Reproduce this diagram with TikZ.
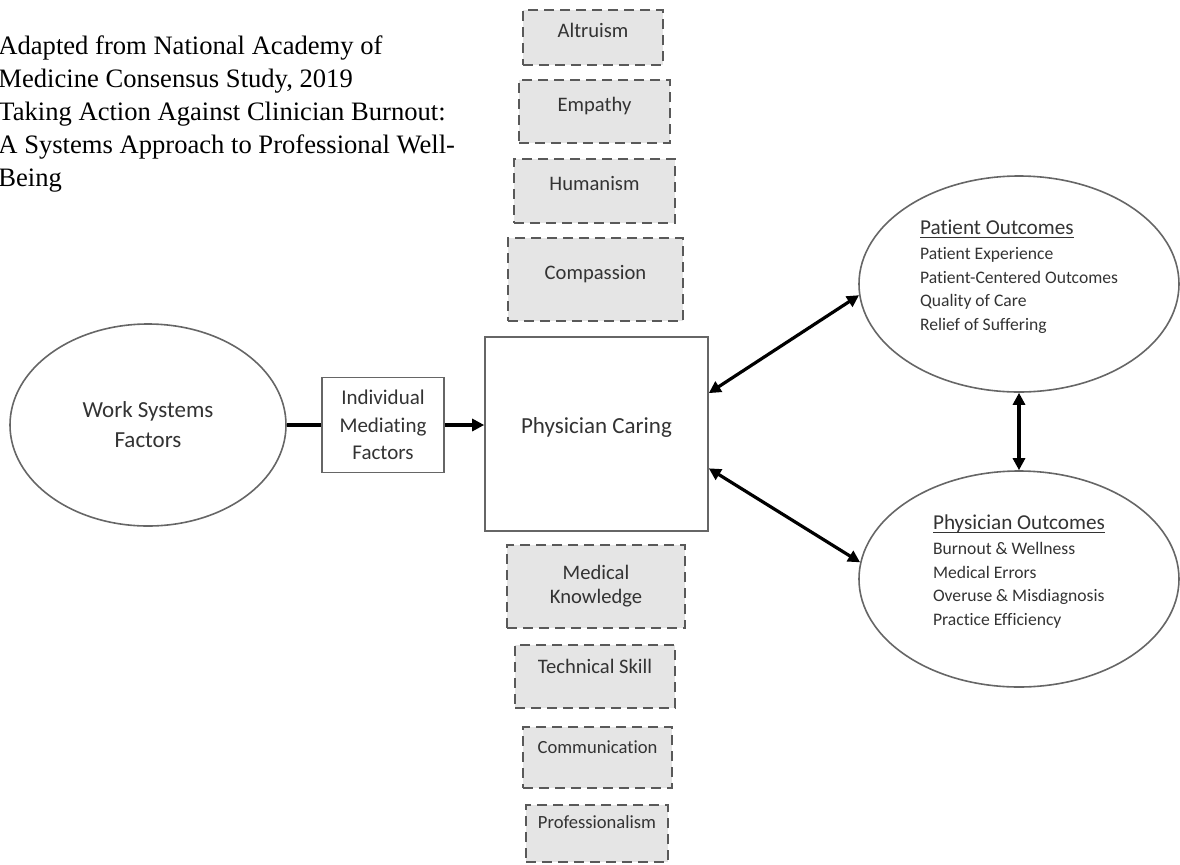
\documentclass[tikz,border=0pt]{standalone}
\usepackage{fontspec}
\setmainfont{Carlito}[Ligatures=NoCommon]
\newfontfamily\timesface{Liberation Serif}
\usetikzlibrary{shapes.geometric,arrows.meta}

\begin{document}
\begin{tikzpicture}[x=0.5pt,y=-0.5pt]
    % Define styles
    \tikzstyle{trait} = [rectangle, draw=black!65, line width=1.4pt, dash pattern=on 5pt off 3pt, fill=black!10, align=center, inner sep=0pt, text=black!80, font=\fontsize{10.3}{12.5}\selectfont]
    \tikzstyle{smalltrait} = [trait, font=\fontsize{9.3}{11}\selectfont]
    \tikzstyle{block} = [rectangle, draw=black!60, line width=0.8pt, align=center, inner sep=0pt, text=black!80]
    \tikzstyle{oval} = [ellipse, draw=black!60, line width=0.8pt, align=center, inner sep=0pt, text=black!80]
    \tikzstyle{outcome} = [oval, align=left, minimum width=160pt, minimum height=108pt, font=\fontsize{8.8}{11.75}\selectfont]
    \tikzstyle{link} = [line width=1.6pt]
    \tikzstyle{arr} = [link, -{Triangle[length=6pt,width=6pt]}]
    \tikzstyle{biarr} = [link, {Triangle[length=6pt,width=6pt]}-{Triangle[length=6pt,width=6pt]}]

    \useasboundingbox (0,0) rectangle (1180,864);

    % Source note
    \node[anchor=north west, inner sep=0pt, align=left, font=\timesface\fontsize{13.3}{16.5}\selectfont] (source) at (-2,35) {Adapted from National Academy of\\Medicine Consensus Study, 2019\\Taking Action Against Clinician Burnout:\\A Systems Approach to Professional Well-\\Being};

    % Traits above
    \node[trait, minimum width=70pt, minimum height=27.5pt, text height=7.5pt, text depth=8pt] (altruism) at (593,37.5) {Altruism};
    \node[trait, minimum width=75.5pt, minimum height=31.5pt, text height=7.5pt, text depth=8pt] (empathy) at (594.5,111.5) {Empathy};
    \node[trait, minimum width=80.5pt, minimum height=32pt, text height=7.5pt, text depth=8pt] (humanism) at (594.5,191) {Humanism};
    \node[trait, minimum width=87.5pt, minimum height=41.5pt, text height=7.5pt, text depth=8pt] (compassion) at (595.5,279.5) {Compassion};

    % Traits below
    \node[trait, minimum width=89pt, minimum height=41.5pt, font=\fontsize{10.3}{12}\selectfont] (knowledge) at (596,586.5) {Medical\\Knowledge};
    \node[trait, minimum width=80pt, minimum height=31.5pt, text height=7.5pt, text depth=10.4pt] (technical) at (595,676.5) {Technical Skill};
    \node[smalltrait, minimum width=74.5pt, minimum height=30.5pt, text height=7pt, text depth=11.3pt] (communication) at (597.5,757.5) {Communication};
    \node[smalltrait, minimum width=71pt, minimum height=28.5pt, text height=7pt, text depth=12.3pt] (professionalism) at (597,833.5) {Professionalism};

    % Main chain
    \node[oval, minimum width=138pt, minimum height=101pt, font=\fontsize{11.5}{15}\selectfont] (work) at (148,425) {Work Systems\\Factors};
    \node[block, minimum width=61pt, minimum height=47.5pt, font=\fontsize{10.5}{13.75}\selectfont] (mediating) at (383,425) {Individual\\Mediating\\Factors};
    \node[block, minimum width=111.5pt, minimum height=97pt, font=\fontsize{11.5}{14}\selectfont, text height=9pt, text depth=9.8pt] (caring) at (596.5,434) {Physician Caring};

    % Outcomes
    \node[outcome] (patient) at (1019,284) {{\fontsize{10.6}{12}\selectfont\underline{\smash{Patient Outcomes}}}\\[0.75pt]Patient Experience\\Patient-Centered Outcomes\\Quality of Care\\Relief of Suffering};
    \node[outcome] (physician) at (1019,579) {{\fontsize{10.6}{12}\selectfont\underline{\smash{Physician Outcomes}}}\\[0.75pt]Burnout \& Wellness\\Medical Errors\\Overuse \& Misdiagnosis\\Practice Efficiency};

    % Connectors
    \draw[link] (work) -- (mediating);
    \draw[arr] (mediating.east) -- (mediating.east -| caring.west);
    \draw[biarr] (caring.20) -- (patient.184);
    \draw[biarr] (caring.-17) -- (physician.174);
    \draw[biarr] (patient) -- (physician);

\end{tikzpicture}
\end{document}
